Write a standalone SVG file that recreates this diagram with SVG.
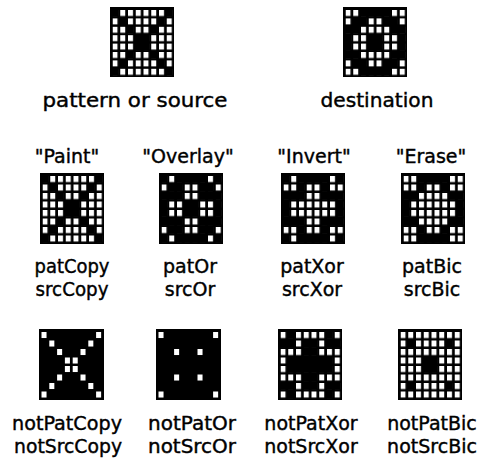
<svg xmlns="http://www.w3.org/2000/svg" xmlns:xlink="http://www.w3.org/1999/xlink" width="485" height="458" viewBox="0 0 485 458">
<style>
.bg{fill:#000}
.k{fill:#000}
text{font-family:"DejaVu Sans","Liberation Sans",sans-serif;fill:#000;stroke:#000;stroke-width:0.4px;text-anchor:middle}
.t1{font-size:19px}
.t2{font-size:19px}
.t3{font-size:19px}
</style>
<defs>
<pattern id="grid" patternUnits="userSpaceOnUse" x="0" y="0" width="1" height="1">
<rect x="0" y="0" width="0.645" height="0.71" fill="#fff"/>
</pattern>
<rect id="k" x="-0.1" y="-0.1" width="0.845" height="0.91" fill="#000"/>
<rect id="d" x="0" y="0" width="0.645" height="0.71" fill="#fff"/>
</defs>
<rect width="485" height="458" fill="#fff"/>
<g id="connectors"/>

<g id="source" transform="translate(110,7)">
<rect class="bg" width="64" height="70"/>
<g transform="translate(2.5,3) scale(7.75,8.4)">
<rect width="8" height="8" fill="url(#grid)"/>
<use href="#k" x="0" y="0"/><use href="#k" x="7" y="0"/>
<use href="#k" x="1" y="1"/><use href="#k" x="6" y="1"/>
<use href="#k" x="2" y="2"/><use href="#k" x="5" y="2"/>
<rect class="k" x="2.9" y="2.9" width="1.845" height="1.91"/>
<use href="#k" x="2" y="5"/><use href="#k" x="5" y="5"/>
<use href="#k" x="1" y="6"/><use href="#k" x="6" y="6"/>
<use href="#k" x="0" y="7"/><use href="#k" x="7" y="7"/>
</g>
</g>

<g id="destination" transform="translate(343,7)">
<rect class="bg" width="64" height="70"/>
<g transform="translate(2.5,3) scale(7.75,8.4)">
<rect width="8" height="8" fill="url(#grid)"/>
<rect class="k" x="1.9" y="-0.1" width="3.845" height="0.91"/>
<rect class="k" x="0.9" y="0.9" width="1.845" height="0.91"/><rect class="k" x="4.9" y="0.9" width="1.845" height="0.91"/>
<rect class="k" x="-0.1" y="1.9" width="1.845" height="0.91"/><rect class="k" x="5.9" y="1.9" width="1.845" height="0.91"/>
<rect class="k" x="-0.1" y="2.9" width="0.845" height="1.91"/><rect class="k" x="2.9" y="2.9" width="1.845" height="1.91"/><rect class="k" x="6.9" y="2.9" width="0.845" height="1.91"/>
<rect class="k" x="-0.1" y="4.9" width="1.845" height="0.91"/><rect class="k" x="5.9" y="4.9" width="1.845" height="0.91"/>
<rect class="k" x="0.9" y="5.9" width="1.845" height="0.91"/><rect class="k" x="4.9" y="5.9" width="1.845" height="0.91"/>
<rect class="k" x="1.9" y="6.9" width="3.845" height="0.91"/>
</g>
</g>

<g id="paint" transform="translate(40,173)">
<rect class="bg" width="64" height="71"/>
<g transform="translate(2.5,3) scale(7.75,8.5)">
<rect width="8" height="8" fill="url(#grid)"/>
<use href="#k" x="0" y="0"/><use href="#k" x="7" y="0"/>
<use href="#k" x="1" y="1"/><use href="#k" x="6" y="1"/>
<use href="#k" x="2" y="2"/><use href="#k" x="5" y="2"/>
<rect class="k" x="2.9" y="2.9" width="1.845" height="1.91"/>
<use href="#k" x="2" y="5"/><use href="#k" x="5" y="5"/>
<use href="#k" x="1" y="6"/><use href="#k" x="6" y="6"/>
<use href="#k" x="0" y="7"/><use href="#k" x="7" y="7"/>
</g>
</g>

<g id="overlay" transform="translate(159,173)">
<rect class="bg" width="64" height="71"/>
<g transform="translate(2.5,3) scale(7.75,8.5)">
<rect width="8" height="8" fill="url(#grid)"/>
<use href="#k" x="0" y="0"/><rect class="k" x="1.9" y="-0.1" width="3.845" height="0.91"/><use href="#k" x="7" y="0"/>
<rect class="k" x="0.9" y="0.9" width="1.845" height="0.91"/><rect class="k" x="4.9" y="0.9" width="1.845" height="0.91"/>
<rect class="k" x="-0.1" y="1.9" width="2.845" height="0.91"/><rect class="k" x="4.9" y="1.9" width="2.845" height="0.91"/>
<rect class="k" x="-0.1" y="2.9" width="0.845" height="1.91"/><rect class="k" x="2.9" y="2.9" width="1.845" height="1.91"/><rect class="k" x="6.9" y="2.9" width="0.845" height="1.91"/>
<rect class="k" x="-0.1" y="4.9" width="2.845" height="0.91"/><rect class="k" x="4.9" y="4.9" width="2.845" height="0.91"/>
<rect class="k" x="0.9" y="5.9" width="1.845" height="0.91"/><rect class="k" x="4.9" y="5.9" width="1.845" height="0.91"/>
<use href="#k" x="0" y="7"/><rect class="k" x="1.9" y="6.9" width="3.845" height="0.91"/><use href="#k" x="7" y="7"/>
</g>
</g>

<g id="invert" transform="translate(281,173)">
<rect class="bg" width="64" height="71"/>
<g transform="translate(2.5,3) scale(7.75,8.5)">
<rect width="8" height="8" fill="url(#grid)"/>
<use href="#k" x="0" y="0"/><rect class="k" x="1.9" y="-0.1" width="3.845" height="0.91"/><use href="#k" x="7" y="0"/>
<use href="#k" x="2" y="1"/><use href="#k" x="5" y="1"/>
<rect class="k" x="-0.1" y="1.9" width="2.845" height="0.91"/><rect class="k" x="4.9" y="1.9" width="2.845" height="0.91"/>
<rect class="k" x="-0.1" y="2.9" width="0.845" height="1.91"/><rect class="k" x="6.9" y="2.9" width="0.845" height="1.91"/>
<rect class="k" x="-0.1" y="4.9" width="2.845" height="0.91"/><rect class="k" x="4.9" y="4.9" width="2.845" height="0.91"/>
<use href="#k" x="2" y="6"/><use href="#k" x="5" y="6"/>
<use href="#k" x="0" y="7"/><rect class="k" x="1.9" y="6.9" width="3.845" height="0.91"/><use href="#k" x="7" y="7"/>
</g>
</g>

<g id="erase" transform="translate(401,173)">
<rect class="bg" width="64" height="71"/>
<g transform="translate(2.5,3) scale(7.75,8.5)">
<rect width="8" height="8" fill="url(#grid)"/>
<rect class="k" x="1.9" y="-0.1" width="3.845" height="0.91"/>
<use href="#k" x="2" y="1"/><use href="#k" x="5" y="1"/>
<rect class="k" x="-0.1" y="1.9" width="1.845" height="0.91"/><rect class="k" x="5.9" y="1.9" width="1.845" height="0.91"/>
<rect class="k" x="-0.1" y="2.9" width="0.845" height="1.91"/><rect class="k" x="6.9" y="2.9" width="0.845" height="1.91"/>
<rect class="k" x="-0.1" y="4.9" width="1.845" height="0.91"/><rect class="k" x="5.9" y="4.9" width="1.845" height="0.91"/>
<use href="#k" x="2" y="6"/><use href="#k" x="5" y="6"/>
<rect class="k" x="1.9" y="6.9" width="3.845" height="0.91"/>
</g>
</g>

<g id="notPatCopy" transform="translate(39,329)">
<rect class="bg" width="65" height="71"/>
<g transform="translate(2.5,3) scale(7.8,8.5)">
<use href="#d" x="0" y="0"/><use href="#d" x="7" y="0"/>
<use href="#d" x="1" y="1"/><use href="#d" x="6" y="1"/>
<use href="#d" x="2" y="2"/><use href="#d" x="5" y="2"/>
<use href="#d" x="3" y="3"/><use href="#d" x="4" y="3"/>
<use href="#d" x="3" y="4"/><use href="#d" x="4" y="4"/>
<use href="#d" x="2" y="5"/><use href="#d" x="5" y="5"/>
<use href="#d" x="1" y="6"/><use href="#d" x="6" y="6"/>
<use href="#d" x="0" y="7"/><use href="#d" x="7" y="7"/>
</g>
</g>

<g id="notPatOr" transform="translate(156,329)">
<rect class="bg" width="65" height="71"/>
<g transform="translate(2.5,3) scale(7.8,8.5)">
<use href="#d" x="0" y="0"/><use href="#d" x="7" y="0"/>
<use href="#d" x="2" y="2"/><use href="#d" x="5" y="2"/>
<use href="#d" x="2" y="5"/><use href="#d" x="5" y="5"/>
<use href="#d" x="0" y="7"/><use href="#d" x="7" y="7"/>
</g>
</g>

<g id="notPatXor" transform="translate(278,329)">
<rect class="bg" width="64" height="71"/>
<g transform="translate(2.5,3) scale(7.75,8.5)">
<rect width="8" height="8" fill="url(#grid)"/>
<use href="#k" x="1" y="0"/><use href="#k" x="6" y="0"/>
<rect class="k" x="-0.1" y="0.9" width="1.845" height="0.91"/><rect class="k" x="2.9" y="0.9" width="1.845" height="0.91"/><rect class="k" x="5.9" y="0.9" width="1.845" height="0.91"/>
<rect class="k" x="2.9" y="1.9" width="1.845" height="0.91"/>
<rect class="k" x="0.9" y="2.9" width="5.845" height="1.91"/>
<rect class="k" x="2.9" y="4.9" width="1.845" height="0.91"/>
<rect class="k" x="-0.1" y="5.9" width="1.845" height="0.91"/><rect class="k" x="2.9" y="5.9" width="1.845" height="0.91"/><rect class="k" x="5.9" y="5.9" width="1.845" height="0.91"/>
<use href="#k" x="1" y="7"/><use href="#k" x="6" y="7"/>
</g>
</g>

<g id="notPatBic" transform="translate(398,329)">
<rect class="bg" width="64" height="71"/>
<g transform="translate(2.5,3) scale(7.75,8.5)">
<rect width="8" height="8" fill="url(#grid)"/>
<use href="#k" x="1" y="1"/><use href="#k" x="6" y="1"/>
<rect class="k" x="2.9" y="2.9" width="1.845" height="1.91"/>
<use href="#k" x="1" y="6"/><use href="#k" x="6" y="6"/>
</g>
</g>

<g id="labels">
<text class="t1" x="135" y="107" textLength="185" lengthAdjust="spacingAndGlyphs">pattern or source</text>
<text class="t1" x="377" y="107" textLength="113" lengthAdjust="spacingAndGlyphs">destination</text>
<text class="t2" x="67" y="163">"Paint"</text>
<text class="t2" x="188" y="163">"Overlay"</text>
<text class="t2" x="314" y="163">"Invert"</text>
<text class="t2" x="431" y="163">"Erase"</text>
<text class="t3" x="72" y="273" textLength="75" lengthAdjust="spacingAndGlyphs">patCopy</text>
<text class="t3" x="72" y="296" textLength="73" lengthAdjust="spacingAndGlyphs">srcCopy</text>
<text class="t3" x="190" y="273">patOr</text>
<text class="t3" x="190" y="296">srcOr</text>
<text class="t3" x="312" y="273">patXor</text>
<text class="t3" x="312" y="296">srcXor</text>
<text class="t3" x="432" y="273">patBic</text>
<text class="t3" x="432" y="296">srcBic</text>
<text class="t3" x="67" y="430" textLength="110" lengthAdjust="spacingAndGlyphs">notPatCopy</text>
<text class="t3" x="68" y="453" textLength="108" lengthAdjust="spacingAndGlyphs">notSrcCopy</text>
<text class="t3" x="192" y="430" textLength="88" lengthAdjust="spacingAndGlyphs">notPatOr</text>
<text class="t3" x="192" y="453" textLength="88" lengthAdjust="spacingAndGlyphs">notSrcOr</text>
<text class="t3" x="311" y="430">notPatXor</text>
<text class="t3" x="311" y="453">notSrcXor</text>
<text class="t3" x="432" y="430">notPatBic</text>
<text class="t3" x="432" y="453">notSrcBic</text>
</g>
</svg>
